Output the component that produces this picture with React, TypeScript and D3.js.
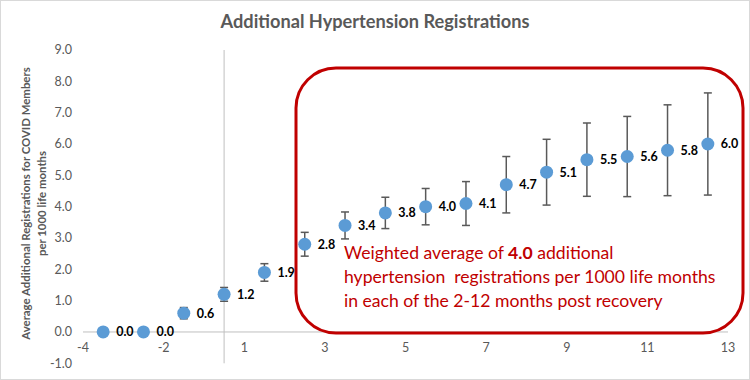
import React from "react";
import * as d3 from "d3";

const months = [-3, -2, -1, 0, 1, 2, 3, 4, 5, 6, 7, 8, 9, 10, 11, 12];
const values = [0.0, 0.0, 0.6, 1.2, 1.9, 2.8, 3.4, 3.8, 4.0, 4.1, 4.7, 5.1, 5.5, 5.6, 5.8, 6.0];
const errors = [0, 0, 0.18, 0.22, 0.28, 0.38, 0.43, 0.5, 0.58, 0.7, 0.9, 1.05, 1.17, 1.28, 1.45, 1.63];
const xTickPositions = [-3.5, -1.5, 0.5, 2.5, 4.5, 6.5, 8.5, 10.5, 12.5];
const xTickLabels = ["-4", "-2", "1", "3", "5", "7", "9", "11", "13"];
const yTicks = [-1, 0, 1, 2, 3, 4, 5, 6, 7, 8, 9];
const title = "Additional Hypertension Registrations";
const yTitle1 = "Average Additional Registrations for COVID Members";
const yTitle2 = "per 1000 life months";
const noteLines = [
  ["Weighted average of ", "4.0", " additional"],
  ["hypertension  registrations per 1000 life months"],
  ["in each of the 2-12 months post recovery"],
];

const W = 750;
const H = 380;
const FONT = "Lato, 'Open Sans', sans-serif";
const GRAY = "#595959";
const RED = "#C00000";

export default function App() {
  const x = d3.scaleLinear().domain([-3.5, 12.5]).range([83, 728]);
  const y = d3.scaleLinear().domain([-1, 9]).range([363.3, 50]);
  const x0 = x(0);

  return (
    <svg width={W} height={H} style={{ position: "absolute", left: 0, top: 0, fontFamily: FONT }}>
      <rect x={0.5} y={0.5} width={W - 1} height={H - 1} fill="#fff" stroke="#d9d9d9" />
      <text x={375} y={28} textAnchor="middle" fontSize={18.2} fontWeight={700} fill={GRAY}>
        {title}
      </text>

      {/* y tick labels */}
      {yTicks.map((t) => (
        <text key={t} x={72} y={y(t)} dy="0.35em" textAnchor="end" fontSize={12.5} fill={GRAY}>
          {t.toFixed(1)}
        </text>
      ))}

      {/* y axis title */}
      <g transform={`translate(26, ${y(4.1)}) rotate(-90)`}>
        <text x={0} y={0} dy="0.35em" textAnchor="middle" fontSize={11.4} fontWeight={700} fill={GRAY}>
          {yTitle1}
        </text>
        <text x={0} y={16.5} dy="0.35em" textAnchor="middle" fontSize={11.4} fontWeight={700} fill={GRAY}>
          {yTitle2}
        </text>
      </g>

      {/* axes */}
      <line x1={x(-3.5)} x2={x(12.5)} y1={y(0)} y2={y(0)} stroke="#bfbfbf" strokeWidth={1} />
      <line x1={x0} x2={x0} y1={y(9)} y2={y(-1)} stroke="#bfbfbf" strokeWidth={1} />

      {xTickPositions.map((p, i) => (
        <text key={p} x={x(p)} y={y(0) + 16} dy="0.35em" textAnchor="middle" fontSize={12.5} fill={GRAY}>
          {xTickLabels[i]}
        </text>
      ))}

      {/* annotation box */}
      <rect x={296} y={68} width={447} height={265} rx={40} ry={40} fill="none" stroke={RED} strokeWidth={3} />
      {noteLines.map((parts, i) => (
        <text key={i} x={344} y={259 + i * 23.8} fontSize={17.6} fill={RED} style={{ whiteSpace: "pre" }}>
          {parts.map((s, j) => (
            <tspan key={j} fontWeight={s === "4.0" ? 700 : 400}>
              {s}
            </tspan>
          ))}
        </text>
      ))}

      {/* error bars */}
      {months.map((m, i) =>
        errors[i] > 0 ? (
          <g key={"e" + m} stroke={GRAY} strokeWidth={1.5}>
            <line x1={x(m)} x2={x(m)} y1={y(values[i] + errors[i])} y2={y(values[i] - errors[i])} />
            <line x1={x(m) - 4} x2={x(m) + 4} y1={y(values[i] + errors[i])} y2={y(values[i] + errors[i])} />
            <line x1={x(m) - 4} x2={x(m) + 4} y1={y(values[i] - errors[i])} y2={y(values[i] - errors[i])} />
          </g>
        ) : null
      )}

      {/* points */}
      {months.map((m, i) => (
        <circle key={"c" + m} cx={x(m)} cy={y(values[i])} r={6.5} fill="#5B9BD5" />
      ))}

      {/* data labels */}
      {months.map((m, i) => (
        <text key={"l" + m} x={x(m) + 13} y={y(values[i])} dy="0.35em" fontSize={12.5} fontWeight={700} fill="#000">
          {values[i].toFixed(1)}
        </text>
      ))}
    </svg>
  );
}
